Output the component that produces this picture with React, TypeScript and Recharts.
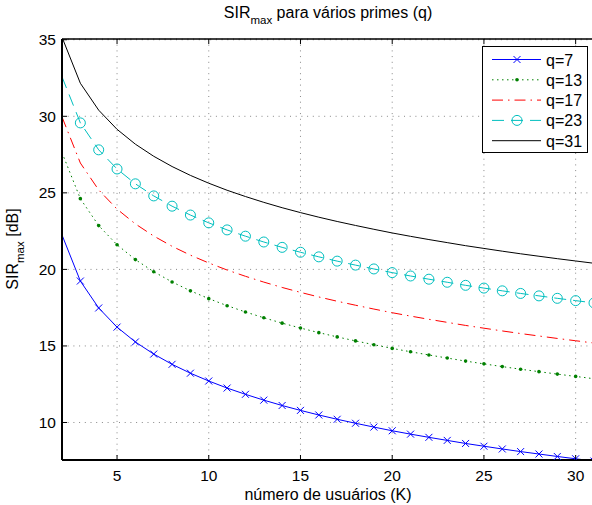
import React from 'react';
import { LineChart, Line, XAxis, YAxis, CartesianGrid, ReferenceLine, Legend, Label } from 'recharts';

// número de usuários K
const users = [2, 3, 4, 5, 6, 7, 8, 9, 10, 11, 12, 13, 14, 15, 16, 17, 18, 19, 20, 21, 22, 23, 24, 25, 26, 27, 28, 29, 30, 31];

// SIR_max [dB], one list per prime q
const sirQ7 = [22.25, 19.24, 17.48, 16.23, 15.26, 14.47, 13.80, 13.22, 12.71, 12.25, 11.84, 11.46, 11.11, 10.79, 10.49, 10.21, 9.95, 9.70, 9.46, 9.24, 9.03, 8.83, 8.63, 8.45, 8.27, 8.10, 7.94, 7.78, 7.63, 7.48];
const sirQ13 = [27.63, 24.62, 22.86, 21.61, 20.64, 19.85, 19.18, 18.60, 18.09, 17.63, 17.22, 16.84, 16.49, 16.17, 15.87, 15.59, 15.33, 15.08, 14.84, 14.62, 14.41, 14.21, 14.01, 13.83, 13.65, 13.48, 13.32, 13.16, 13.01, 12.86];
const sirQ17 = [29.96, 26.95, 25.19, 23.94, 22.97, 22.18, 21.51, 20.93, 20.42, 19.96, 19.55, 19.17, 18.82, 18.50, 18.20, 17.92, 17.66, 17.41, 17.17, 16.95, 16.74, 16.54, 16.34, 16.16, 15.98, 15.81, 15.65, 15.49, 15.34, 15.19];
const sirQ23 = [32.58, 29.57, 27.81, 26.56, 25.59, 24.80, 24.13, 23.55, 23.04, 22.58, 22.17, 21.79, 21.44, 21.12, 20.82, 20.54, 20.28, 20.03, 19.79, 19.57, 19.36, 19.16, 18.96, 18.78, 18.60, 18.43, 18.27, 18.11, 17.96, 17.81];
const sirQ31 = [35.17, 32.16, 30.40, 29.15, 28.18, 27.39, 26.72, 26.14, 25.63, 25.17, 24.76, 24.38, 24.03, 23.71, 23.41, 23.13, 22.87, 22.62, 22.38, 22.16, 21.95, 21.75, 21.55, 21.37, 21.19, 21.02, 20.86, 20.70, 20.55, 20.40];

const xTicks = [5, 10, 15, 20, 25, 30];
const yTicks = [10, 15, 20, 25, 30, 35];
const seriesNames = ['q=7', 'q=13', 'q=17', 'q=23', 'q=31'];

const X_DOMAIN: [number, number] = [2, 31];
const Y_DOMAIN: [number, number] = [7.55, 35.05];

const FONT = '"Liberation Sans", Arial, Helvetica, sans-serif';
const PLOT_TOP = 39;
const PLOT_BOTTOM = 460;
const PLOT_LEFT = 62;

const BLUE = '#0000ff';
const GREEN = '#008000';
const RED = '#ff0000';
const CYAN = '#00bfbf';

const data = users.map((k, i) => ({
  K: k,
  q7: sirQ7[i],
  q13: sirQ13[i],
  q17: sirQ17[i],
  q23: sirQ23[i],
  q31: sirQ31[i],
}));

function xMark(cx: number, cy: number, key?: string) {
  const s = 3.5;
  return (
    <path
      key={key}
      d={`M${cx - s},${cy - s}L${cx + s},${cy + s}M${cx - s},${cy + s}L${cx + s},${cy - s}`}
      stroke={BLUE}
      strokeWidth={1}
      fill="none"
    />
  );
}

// markers start at K=3, as in the figure
const XDot = (props: any) => {
  if (props.payload?.K === 2) return <g key={`x-${props.index}`} />;
  return xMark(props.cx, props.cy, `x-${props.index}`);
};

const GreenDot = (props: any) => {
  if (props.payload?.K === 2) return <g key={`g-${props.index}`} />;
  return <circle key={`g-${props.index}`} cx={props.cx} cy={props.cy} r={1.8} fill={GREEN} />;
};

const CircleDot = (props: any) => {
  if (props.payload?.K === 2) return <g key={`c-${props.index}`} />;
  return <circle key={`c-${props.index}`} cx={props.cx} cy={props.cy} r={5} fill="none" stroke={CYAN} strokeWidth={1} />;
};

// matlab style: ticks point inwards, also on the top border
const XTick = (props: any) => {
  const { x, payload } = props;
  return (
    <g>
      <line x1={x} x2={x} y1={PLOT_BOTTOM} y2={PLOT_BOTTOM - 5} stroke="#000" />
      <line x1={x} x2={x} y1={PLOT_TOP} y2={PLOT_TOP + 5} stroke="#000" />
      <text x={x} y={481} textAnchor="middle" fontSize={15.5} fontFamily={FONT} fill="#000">
        {payload.value}
      </text>
    </g>
  );
};

const YTick = (props: any) => {
  const { y, payload } = props;
  return (
    <g>
      <line x1={PLOT_LEFT} x2={PLOT_LEFT + 5} y1={y} y2={y} stroke="#000" />
      <text x={56} y={y + 5.5} textAnchor="end" fontSize={15.5} fontFamily={FONT} fill="#000">
        {payload.value}
      </text>
    </g>
  );
};

function LegendBox() {
  const rows = [
    { name: seriesNames[0], color: BLUE, dash: undefined, marker: 'x' },
    { name: seriesNames[1], color: GREEN, dash: '1.5 3.5', marker: 'dot' },
    { name: seriesNames[2], color: RED, dash: '11 5 1.5 5', marker: '' },
    { name: seriesNames[3], color: CYAN, dash: '12 7', marker: 'o' },
    { name: seriesNames[4], color: '#000', dash: undefined, marker: '' },
  ];
  return (
    <div
      style={{
        width: 104,
        height: 105,
        border: '1px solid #000',
        background: '#fff',
        position: 'relative',
        fontFamily: FONT,
      }}
    >
      <svg width={104} height={105} style={{ position: 'absolute', left: 0, top: 0 }}>
        {rows.map((r, i) => {
          const cy = 12.5 + i * 20.3;
          return (
            <g key={r.name}>
              <line x1={9} x2={58} y1={cy} y2={cy} stroke={r.color} strokeWidth={1} strokeDasharray={r.dash} />
              {r.marker === 'x' && xMark(34, cy)}
              {r.marker === 'dot' && <circle cx={34} cy={cy} r={1.8} fill={GREEN} />}
              {r.marker === 'o' && <circle cx={34} cy={cy} r={5} fill="none" stroke={CYAN} />}
              <text x={63} y={cy + 6} fontSize={16} fontFamily={FONT} fill="#000">
                {r.name}
              </text>
            </g>
          );
        })}
      </svg>
    </div>
  );
}

export default function App() {
  return (
    <div
      style={{
        position: 'absolute',
        left: 0,
        top: 0,
        width: 592,
        height: 505,
        overflow: 'hidden',
        background: '#fff',
        fontFamily: FONT,
      }}
    >
      <div
        style={{
          position: 'absolute',
          left: 0,
          width: 656,
          top: 4,
          textAlign: 'center',
          fontSize: 16,
          color: '#000',
          whiteSpace: 'nowrap',
          lineHeight: '18px',
        }}
      >
        SIR<span style={{ fontSize: 11.5, position: 'relative', top: 6 }}>max</span> para vários primes (q)
      </div>
      <LineChart
        width={600}
        height={505}
        data={data}
        margin={{ top: PLOT_TOP, right: 6, bottom: 0, left: 0 }}
      >
        <CartesianGrid stroke="#888" strokeDasharray="1 4.7" strokeWidth={1} />
        <XAxis
          dataKey="K"
          type="number"
          domain={X_DOMAIN}
          ticks={xTicks}
          allowDataOverflow
          height={505 - PLOT_BOTTOM}
          axisLine={{ stroke: '#000', strokeWidth: 2 }}
          tickLine={false}
          tick={<XTick />}
        >
          <Label
            content={() => (
              <text x={328} y={500} textAnchor="middle" fontSize={16} fontFamily={FONT} fill="#000">
                número de usuários (K)
              </text>
            )}
          />
        </XAxis>
        <YAxis
          type="number"
          domain={Y_DOMAIN}
          ticks={yTicks}
          allowDataOverflow
          width={PLOT_LEFT}
          axisLine={{ stroke: '#000', strokeWidth: 2 }}
          tickLine={false}
          tick={<YTick />}
        >
          <Label
            content={() => (
              <text
                transform="translate(18, 249) rotate(-90)"
                textAnchor="middle"
                fontSize={16}
                fontFamily={FONT}
                fill="#000"
              >
                SIR
                <tspan fontSize={11.5} dy={6}>max</tspan>
                <tspan dy={-6}> [dB]</tspan>
              </text>
            )}
          />
        </YAxis>
        <ReferenceLine y={Y_DOMAIN[1]} stroke="#000" strokeWidth={1.5} />
        <Line
          dataKey="q7"
          name={seriesNames[0]}
          type="linear"
          stroke={BLUE}
          strokeWidth={1}
          dot={XDot}
          activeDot={false}
          isAnimationActive={false}
        />
        <Line
          dataKey="q13"
          name={seriesNames[1]}
          type="linear"
          stroke={GREEN}
          strokeWidth={1}
          strokeDasharray="1.5 3.5"
          dot={GreenDot}
          activeDot={false}
          isAnimationActive={false}
        />
        <Line
          dataKey="q17"
          name={seriesNames[2]}
          type="linear"
          stroke={RED}
          strokeWidth={1}
          strokeDasharray="11 5 1.5 5"
          dot={false}
          activeDot={false}
          isAnimationActive={false}
        />
        <Line
          dataKey="q23"
          name={seriesNames[3]}
          type="linear"
          stroke={CYAN}
          strokeWidth={1}
          strokeDasharray="12 7"
          dot={CircleDot}
          activeDot={false}
          isAnimationActive={false}
        />
        <Line
          dataKey="q31"
          name={seriesNames[4]}
          type="linear"
          stroke="#000"
          strokeWidth={1}
          dot={false}
          activeDot={false}
          isAnimationActive={false}
        />
        <Legend
          layout="vertical"
          align="center"
          verticalAlign="middle"
          wrapperStyle={{ position: 'absolute', left: 482, top: 46, width: 106, height: 107 }}
          content={() => <LegendBox />}
        />
      </LineChart>
    </div>
  );
}
